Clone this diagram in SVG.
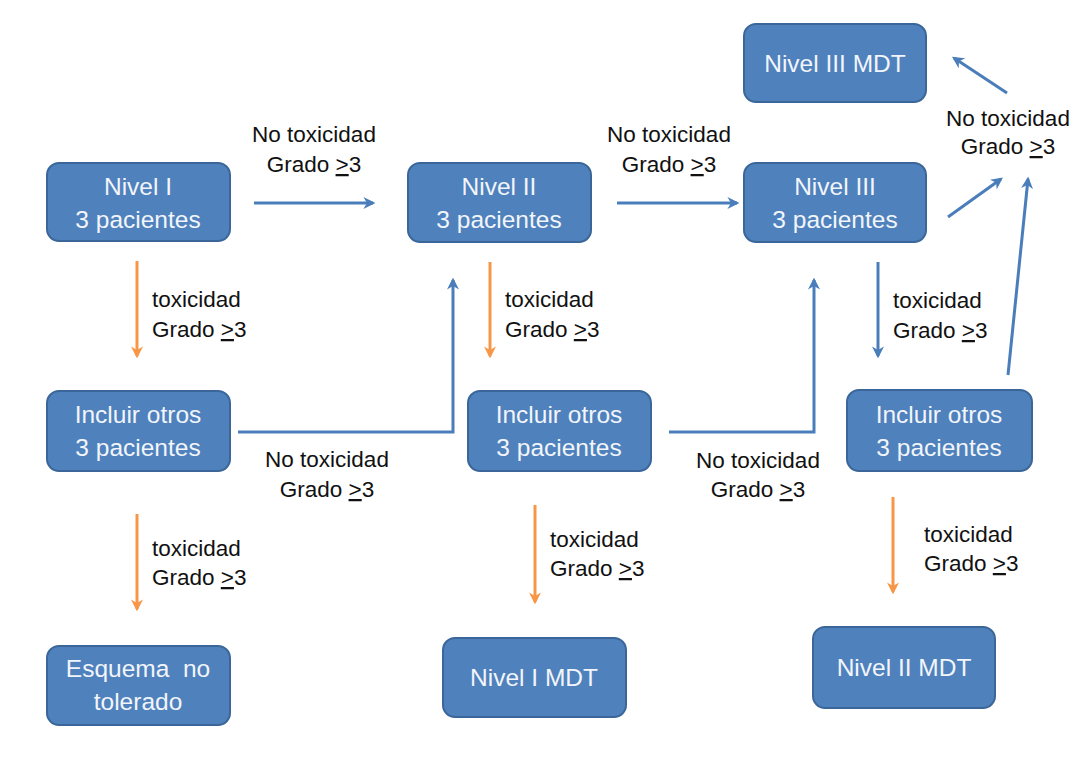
<svg xmlns="http://www.w3.org/2000/svg" width="1083" height="777" viewBox="0 0 1083 777">
<defs>
<style>
.box{fill:#4f81bd;stroke:#3b6699;stroke-width:2}
.nt{font-family:"Liberation Sans",Arial,sans-serif;font-size:24.5px;fill:#f2f5fa;text-anchor:middle}
.lb{font-family:"Liberation Sans",Arial,sans-serif;font-size:22.5px;fill:#111}
.c{text-anchor:middle}
.b{stroke:#4a7ebb;stroke-width:3;fill:none;marker-end:url(#ab)}
.o{stroke:#f79646;stroke-width:3;fill:none;marker-end:url(#ao)}
</style>
<marker id="ab" viewBox="0 0 10 10" refX="8" refY="5" markerWidth="4" markerHeight="4" orient="auto" markerUnits="strokeWidth">
<path d="M0,0 L10,5 L0,10 L3,5 Z" fill="#4a7ebb"/>
</marker>
<marker id="ao" viewBox="0 0 10 10" refX="8" refY="5" markerWidth="4" markerHeight="4" orient="auto" markerUnits="strokeWidth">
<path d="M0,0 L10,5 L0,10 L3,5 Z" fill="#f79646"/>
</marker>
</defs>
<rect width="1083" height="777" fill="#ffffff"/>

<g id="connectors">
<line class="b" x1="254" y1="203" x2="373" y2="203"/>
<line class="b" x1="617" y1="203" x2="737" y2="203"/>
<line class="b" x1="948" y1="217" x2="1001" y2="179"/>
<line class="b" x1="1008" y1="375" x2="1028" y2="179"/>
<line class="b" x1="1007" y1="93" x2="954" y2="58"/>
<line class="o" x1="137" y1="261" x2="137" y2="356"/>
<line class="o" x1="137" y1="514" x2="137" y2="609"/>
<polyline class="b" points="238,432 453,432 453,280"/>
<line class="o" x1="490" y1="262" x2="490" y2="356"/>
<polyline class="b" points="669,432 814,432 814,280"/>
<line class="b" x1="878" y1="262" x2="878" y2="356"/>
<line class="o" x1="535" y1="505" x2="535" y2="602"/>
<line class="o" x1="893" y1="497" x2="893" y2="592"/>
</g>

<g id="labels">
<text class="lb c" x="314" y="142">No toxicidad</text>
<text class="lb c" x="314" y="172">Grado <tspan text-decoration="underline">&gt;</tspan>3</text>
<text class="lb c" x="669" y="142">No toxicidad</text>
<text class="lb c" x="669" y="172">Grado <tspan text-decoration="underline">&gt;</tspan>3</text>
<text class="lb c" x="1008" y="126">No toxicidad</text>
<text class="lb c" x="1008" y="154">Grado <tspan text-decoration="underline">&gt;</tspan>3</text>
<text class="lb" x="152" y="307">toxicidad</text>
<text class="lb" x="152" y="337">Grado <tspan text-decoration="underline">&gt;</tspan>3</text>
<text class="lb" x="505" y="307">toxicidad</text>
<text class="lb" x="505" y="337">Grado <tspan text-decoration="underline">&gt;</tspan>3</text>
<text class="lb" x="893" y="308">toxicidad</text>
<text class="lb" x="893" y="338">Grado <tspan text-decoration="underline">&gt;</tspan>3</text>
<text class="lb c" x="327" y="467">No toxicidad</text>
<text class="lb c" x="327" y="497">Grado <tspan text-decoration="underline">&gt;</tspan>3</text>
<text class="lb c" x="758" y="468">No toxicidad</text>
<text class="lb c" x="758" y="497">Grado <tspan text-decoration="underline">&gt;</tspan>3</text>
<text class="lb" x="152" y="556">toxicidad</text>
<text class="lb" x="152" y="585">Grado <tspan text-decoration="underline">&gt;</tspan>3</text>
<text class="lb" x="550" y="547">toxicidad</text>
<text class="lb" x="550" y="576">Grado <tspan text-decoration="underline">&gt;</tspan>3</text>
<text class="lb" x="924" y="542">toxicidad</text>
<text class="lb" x="924" y="571">Grado <tspan text-decoration="underline">&gt;</tspan>3</text>
</g>

<g id="nivel1"><rect class="box" x="47" y="163" width="183" height="78" rx="12"/>
<text class="nt" x="138" y="195">Nivel I</text><text class="nt" x="138" y="228">3 pacientes</text></g>
<g id="nivel2"><rect class="box" x="408" y="163" width="183" height="79" rx="12"/>
<text class="nt" x="499" y="195">Nivel II</text><text class="nt" x="499" y="228">3 pacientes</text></g>
<g id="nivel3"><rect class="box" x="744" y="163" width="182" height="79" rx="12"/>
<text class="nt" x="835" y="195">Nivel III</text><text class="nt" x="835" y="228">3 pacientes</text></g>
<g id="nivel3mdt"><rect class="box" x="744" y="24" width="182" height="78" rx="12"/>
<text class="nt" x="835" y="72">Nivel III MDT</text></g>
<g id="incluir1"><rect class="box" x="47" y="391" width="183" height="80" rx="12"/>
<text class="nt" x="138" y="423">Incluir otros</text><text class="nt" x="138" y="456">3 pacientes</text></g>
<g id="incluir2"><rect class="box" x="468" y="391" width="183" height="80" rx="12"/>
<text class="nt" x="559" y="423">Incluir otros</text><text class="nt" x="559" y="456">3 pacientes</text></g>
<g id="incluir3"><rect class="box" x="847" y="390" width="185" height="81" rx="12"/>
<text class="nt" x="939" y="423">Incluir otros</text><text class="nt" x="939" y="456">3 pacientes</text></g>
<g id="esquema"><rect class="box" x="47" y="646" width="183" height="79" rx="12"/>
<text class="nt" x="138" y="677" xml:space="preserve">Esquema  no</text><text class="nt" x="138" y="710">tolerado</text></g>
<g id="nivel1mdt"><rect class="box" x="443" y="638" width="183" height="79" rx="12"/>
<text class="nt" x="534" y="686">Nivel I MDT</text></g>
<g id="nivel2mdt"><rect class="box" x="813" y="627" width="182" height="81" rx="12"/>
<text class="nt" x="904" y="676">Nivel II MDT</text></g>
</svg>
